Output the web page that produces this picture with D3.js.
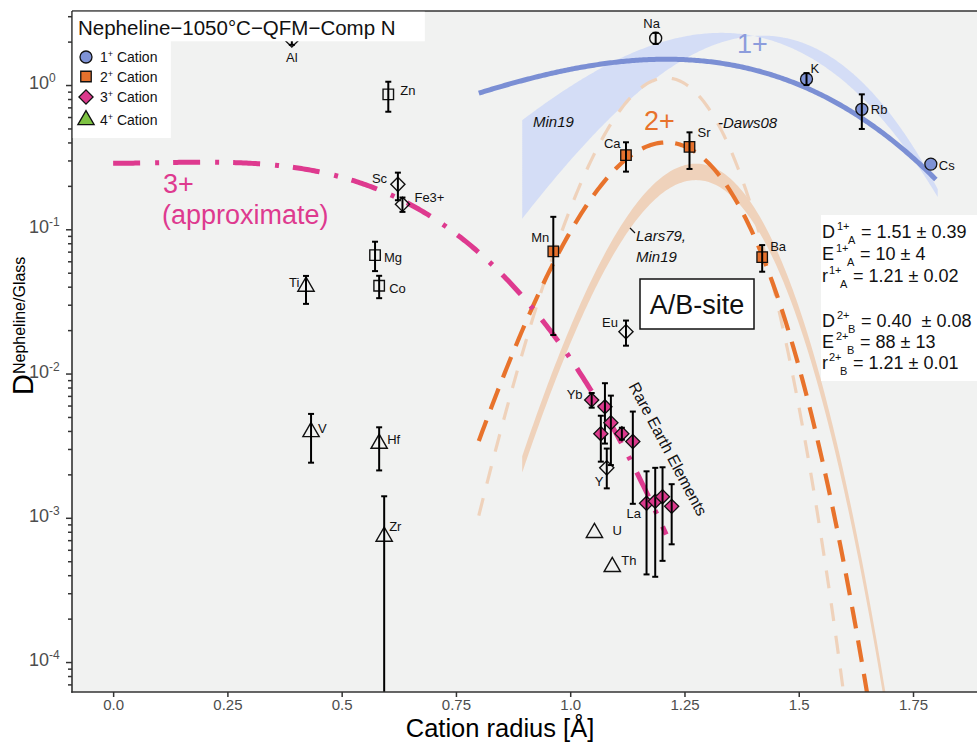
<!DOCTYPE html>
<html>
<head>
<meta charset="utf-8">
<script src="https://cdn.jsdelivr.net/npm/d3@7"></script>
<style>
  body { margin: 0; background: #ffffff; }
  text { font-family: "Liberation Sans", Arial, Helvetica, sans-serif; }
</style>
</head>
<body>
<svg id="chart" width="977" height="742"></svg>
<script>
// ---------------------------------------------------------------
// Measured partition coefficients, nepheline / glass
// ---------------------------------------------------------------
// 1+ cations
const monoNames  = ["Na", "K", "Rb", "Cs"];
const monoRadius = [1.187, 1.517, 1.638, 1.789];
const monoD      = [2.11, 1.10, 0.679, 0.283];
const monoLo     = [1.93, 1.00, 0.496, 0.283];
const monoHi     = [2.30, 1.21, 0.862, 0.283];
const monoFilled = [false, true, true, true];

// 2+ cations
const diNames  = ["Ca", "Sr", "Ba", "Mn", "Zn", "Mg", "Co"];
const diRadius = [1.122, 1.261, 1.420, 0.963, 0.602, 0.573, 0.582];
const diD      = [0.327, 0.373, 0.0642, 0.0702, 0.862, 0.0662, 0.0406];
const diLo     = [0.251, 0.262, 0.0508, 0.0185, 0.653, 0.0513, 0.0333];
const diHi     = [0.401, 0.470, 0.0777, 0.122, 1.054, 0.0820, 0.0476];
const diFilled = [true, true, true, true, false, false, false];

// 3+ cations (REE filled, others open)
const triNames  = ["Al", "Sc", "Fe3+", "Eu", "Y", "Yb", "", "", "", "", "", "La", "", "", ""];
const triRadius = [0.391, 0.623, 0.633, 1.122, 1.080, 1.047, 1.076, 1.089, 1.067, 1.113, 1.137, 1.167, 1.186, 1.202, 1.222];
const triD      = [2.05, 0.205, 0.149, 0.0195, 0.00222, 0.00655, 0.00588, 0.00456, 0.00383, 0.00383, 0.00338, 0.00126, 0.00130, 0.00140, 0.00120];
const triLo     = [1.90, 0.159, 0.132, 0.0156, 0.00160, 0.00580, 0.00327, 0.00232, 0.00245, 0.00348, 0.00125, 0.000405, 0.000390, 0.000503, 0.000655];
const triHi     = [2.20, 0.247, 0.166, 0.0233, 0.00302, 0.00733, 0.00857, 0.00703, 0.00510, 0.00421, 0.00545, 0.00210, 0.00222, 0.00224, 0.00171];
const triFilled = [false, false, false, false, false, true, true, true, true, true, true, true, true, true, true];

// 4+ cations
const tetraNames  = ["Ti", "V", "Hf", "Zr", "U", "Th"];
const tetraRadius = [0.422, 0.433, 0.582, 0.593, 1.053, 1.092];
const tetraD      = [0.0401, 0.00394, 0.00327, 0.000742, 0.000788, 0.000457];
const tetraLo     = [0.0304, 0.00241, 0.00213, 0.000001, 0.000788, 0.000457];
const tetraHi     = [0.0475, 0.00525, 0.00424, 0.00141, 0.000788, 0.000457];

// ---------------------------------------------------------------
// Lattice-strain fits (Blundy & Wood) and literature curves
// ---------------------------------------------------------------
const fitCharge  = ["1+", "2+"];
const fitSite    = ["A", "B"];
const fitD0      = [1.51, 0.40];
const fitD0Err   = [0.39, 0.08];
const fitE       = [10, 88];      // GPa
const fitEErr    = [4, 13];
const fitR0      = [1.21, 1.21];  // Å
const fitR0Err   = [0.02, 0.01];
const fitRange   = [[0.80, 1.80], [0.80, 1.75]];

// approximate 3+ curve
const triCurve = { D0: 0.292, E: 19.4, r0: 0.20, range: [0.0, 1.21] };
// Dawson 2008 (2+)
const daws08 = { D0: 1.12, E: 129, r0: 1.21, range: [0.80, 1.70] };
// Larsen 1979 / Min19 2+ band
const lars79 = { D0: 0.25, E: 92, r0: 1.275, spread: 1.14, range: [0.895, 1.75] };
// Min19 1+ band, upper and lower bounding curves
const min19Upper = { D0: 2.30, E: 20.6, r0: 1.33 };
const min19Lower = { D0: 2.20, E: 28.8, r0: 1.42 };
const min19Range = [0.895, 1.804];

const xTickValues = [0, 0.25, 0.5, 0.75, 1.0, 1.25, 1.5, 1.75];
const xTickLabels = ["0.0", "0.25", "0.5", "0.75", "1.0", "1.25", "1.5", "1.75"];
const yTickExponents = [0, -1, -2, -3, -4];

const T_K = 1050 + 273.15;

// ---------------------------------------------------------------
const svg = d3.select("#chart");
const panel = { left: 72, right: 977, top: 11, bottom: 692 };

const x = d3.scaleLinear().domain([-0.09, 1.89]).range([panel.left, panel.right]);
const y = d3.scaleLog().domain([6.2e-5, 3.26]).range([panel.bottom, panel.top]);

const colors = {
  mono: "#7f93d6", di: "#e5712d", tri: "#dc3a8d", tetra: "#7dc242",
  monoLine: "#7b8fd4", monoBand: "#d2dbf5", diLine: "#e8732c",
  peach: "#efd2bb", triLine: "#de3a8f", tick: "#4d4d4d", axis: "#333333"
};

function latticeStrain(r, D0, E, r0) {
  const NA = 6.02214e23, R = 8.314462;
  const k = 4 * Math.PI * NA * E * 1e9 * 1e-30 / (R * T_K);
  const d = r - r0;
  return D0 * Math.exp(-k * (r0 / 2 * d * d + d * d * d / 3));
}
function sampleRadii(range) {
  const pts = d3.range(range[0], range[1], 0.004);
  pts.push(range[1]);
  return pts;
}

// panel background
svg.append("rect")
  .attr("x", panel.left).attr("y", panel.top)
  .attr("width", panel.right - panel.left).attr("height", panel.bottom - panel.top)
  .attr("fill", "#f1f2f1");

svg.append("clipPath").attr("id", "panelClip")
  .append("rect")
  .attr("x", panel.left).attr("y", panel.top)
  .attr("width", panel.right - panel.left).attr("height", panel.bottom - panel.top);

const plot = svg.append("g").attr("clip-path", "url(#panelClip)");
const line = d3.line().x(d => x(d[0])).y(d => y(d[1]));

// Min19 1+ band
const min19Pts = sampleRadii(min19Range).map(r => [r,
  latticeStrain(r, min19Upper.D0, min19Upper.E, min19Upper.r0),
  latticeStrain(r, min19Lower.D0, min19Lower.E, min19Lower.r0)]);
plot.append("path")
  .attr("d", d3.area().x(d => x(d[0])).y0(d => y(d[1])).y1(d => y(d[2]))(min19Pts))
  .attr("fill", colors.monoBand).attr("opacity", 0.95);

// Lars79 / Min19 2+ band
const larsPts = sampleRadii(lars79.range).map(r => {
  const D = latticeStrain(r, lars79.D0, lars79.E, lars79.r0);
  return [r, D / lars79.spread, D * lars79.spread];
});
plot.append("path")
  .attr("d", d3.area().x(d => x(d[0])).y0(d => y(d[1])).y1(d => y(d[2]))(larsPts))
  .attr("fill", colors.peach);

// Daws08 dashed
plot.append("path")
  .attr("d", line(sampleRadii(daws08.range).map(r => [r, latticeStrain(r, daws08.D0, daws08.E, daws08.r0)])))
  .attr("fill", "none").attr("stroke", colors.peach).attr("stroke-width", 3.2)
  .attr("stroke-dasharray", "18,15");

// 2+ fit, dashed
plot.append("path")
  .attr("d", line(sampleRadii(fitRange[1]).map(r => [r, latticeStrain(r, fitD0[1], fitE[1], fitR0[1])])))
  .attr("fill", "none").attr("stroke", colors.diLine).attr("stroke-width", 4.2)
  .attr("stroke-dasharray", "22,12");

// 1+ fit, solid
plot.append("path")
  .attr("d", line(sampleRadii(fitRange[0]).map(r => [r, latticeStrain(r, fitD0[0], fitE[0], fitR0[0])])))
  .attr("fill", "none").attr("stroke", colors.monoLine).attr("stroke-width", 5);

// 3+ approximate, dash-dot
plot.append("path")
  .attr("d", line(sampleRadii(triCurve.range).map(r => [r, latticeStrain(r, triCurve.D0, triCurve.E, triCurve.r0)])))
  .attr("fill", "none").attr("stroke", colors.triLine).attr("stroke-width", 5)
  .attr("stroke-dasharray", "27,15,4,14");

// ---------------------------------------------------------------
// points with error bars
// ---------------------------------------------------------------
function groupRows(names, radius, D, lo, hi, filled, shape, fill) {
  return names.map((n, i) => ({ name: n, r: radius[i], D: D[i], lo: lo[i], hi: hi[i],
    filled: filled ? filled[i] : false, shape, fill }));
}
const rows = [].concat(
  groupRows(monoNames, monoRadius, monoD, monoLo, monoHi, monoFilled, "circle", colors.mono),
  groupRows(diNames, diRadius, diD, diLo, diHi, diFilled, "square", colors.di),
  groupRows(triNames, triRadius, triD, triLo, triHi, triFilled, "diamond", colors.tri),
  groupRows(tetraNames, tetraRadius, tetraD, tetraLo, tetraHi, null, "triangle", colors.tetra)
);

const symbolFor = {
  circle: d3.symbol(d3.symbolCircle, 113)(),
  square: d3.symbol(d3.symbolSquare, 110)(),
  diamond: d3.symbol(d3.symbolSquare, 100)(),
  triangle: d3.symbol(d3.symbolTriangle, 115)()
};

const pts = plot.append("g");
// open markers first, filled REE on top
const ordered = rows.slice().sort((a, b) => (a.filled === b.filled) ? 0 : (a.filled ? 1 : -1));
ordered.forEach(d => {
  const cx = x(d.r), cy = y(d.D);
  const g = pts.append("g");
  g.append("path")
    .attr("d", symbolFor[d.shape])
    .attr("transform", `translate(${cx},${cy})` + (d.shape === "diamond" ? " rotate(45)" : ""))
    .attr("fill", d.filled ? d.fill : "none")
    .attr("stroke", "#111").attr("stroke-width", d.filled ? 1.3 : 1.4);
  if (d.hi !== d.lo) {
    const y1 = y(d.hi), y2 = y(d.lo);
    g.append("line").attr("x1", cx).attr("x2", cx).attr("y1", y1).attr("y2", y2)
      .attr("stroke", "#000").attr("stroke-width", 2);
    [y1, y2].forEach(yy => g.append("line")
      .attr("x1", cx - 3).attr("x2", cx + 3).attr("y1", yy).attr("y2", yy)
      .attr("stroke", "#000").attr("stroke-width", 2));
  }
});

// element labels (offsets in px from the marker)
const labelOffset = {
  Na: [-4, -10, "middle"], K: [4, -6], Rb: [9, 5], Cs: [8, 6],
  Ca: [-22, -7], Sr: [8, -10], Ba: [8, -6], Mn: [-22, -9], Zn: [12, 1], Mg: [9, 7], Co: [10, 7],
  Al: [0, 22, "middle"], Sc: [-26, -1], "Fe3+": [12, -2], Eu: [-24, -5], Y: [-12, 18], Yb: [-25, -1], La: [-20, 15],
  Ti: [-17, 0], V: [7, 1], Hf: [8, 0], Zr: [5, -5], U: [18, 2], Th: [9, -2]
};
const labels = svg.append("g").attr("font-size", 13).attr("fill", "#111");
rows.filter(d => d.name && labelOffset[d.name]).forEach(d => {
  const o = labelOffset[d.name];
  labels.append("text")
    .attr("x", x(d.r) + o[0]).attr("y", y(d.D) + o[1])
    .attr("text-anchor", o[2] || "start")
    .text(d.name);
});

// ---------------------------------------------------------------
// curve annotations
// ---------------------------------------------------------------
const ann = svg.append("g");
ann.append("text").attr("x", 737).attr("y", 53).attr("font-size", 27).attr("fill", "#8c9cdc").text("1+");
ann.append("text").attr("x", 644).attr("y", 130).attr("font-size", 27).attr("fill", colors.diLine).text("2+");
ann.append("text").attr("x", 163).attr("y", 193).attr("font-size", 27).attr("fill", colors.triLine).text("3+");
ann.append("text").attr("x", 162).attr("y", 224).attr("font-size", 27).attr("fill", colors.triLine).text("(approximate)");
ann.append("text").attr("x", 533).attr("y", 127).attr("font-size", 15).attr("font-style", "italic").attr("fill", "#111").text("Min19");
ann.append("text").attr("x", 718).attr("y", 128).attr("font-size", 15).attr("font-style", "italic").attr("fill", "#111").text("-Daws08");
ann.append("line").attr("x1", 630).attr("y1", 228).attr("x2", 635).attr("y2", 233).attr("stroke", "#111").attr("stroke-width", 1.3);
ann.append("text").attr("x", 636).attr("y", 241).attr("font-size", 15).attr("font-style", "italic").attr("fill", "#111").text("Lars79,");
ann.append("text").attr("x", 636).attr("y", 262).attr("font-size", 15).attr("font-style", "italic").attr("fill", "#111").text("Min19");
ann.append("text")
  .attr("transform", "translate(668,449) rotate(62)")
  .attr("text-anchor", "middle").attr("dominant-baseline", "central")
  .attr("font-size", 16).attr("fill", "#111").text("Rare Earth Elements");

// A/B-site box
ann.append("rect").attr("x", 640).attr("y", 279).attr("width", 114).attr("height", 50)
  .attr("fill", "#fff").attr("stroke", "#111").attr("stroke-width", 1.5);
ann.append("text").attr("x", 697).attr("y", 314).attr("text-anchor", "middle")
  .attr("font-size", 27).attr("fill", "#111").text("A/B-site");

// fit parameter box
ann.append("rect").attr("x", 821).attr("y", 215).attr("width", 160).attr("height", 166).attr("fill", "#fff");
const paramLines = [];
fitCharge.forEach((c, i) => {
  paramLines.push({ sym: "D", w: 15, sup: c, sub: fitSite[i], val: `= ${fitD0[i].toFixed(2)}  \u00b1 ${fitD0Err[i].toFixed(2)}` });
  paramLines.push({ sym: "E", w: 14, sup: c, sub: fitSite[i], val: `= ${fitE[i]} \u00b1 ${fitEErr[i]}` });
  paramLines.push({ sym: "r", w: 7, sup: c, sub: fitSite[i], val: `= ${fitR0[i].toFixed(2)} \u00b1 ${fitR0Err[i].toFixed(2)}` });
});
paramLines[0].val = `= ${fitD0[0].toFixed(2)} \u00b1 ${fitD0Err[0].toFixed(2)}`;
const paramBase = [238, 260, 282, 327, 348, 369];
paramLines.forEach((p, i) => {
  const b = paramBase[i], x0 = 822;
  const t = ann.append("g").attr("fill", "#111");
  t.append("text").attr("x", x0).attr("y", b).attr("font-size", 18).text(p.sym);
  t.append("text").attr("x", x0 + p.w).attr("y", b - 8).attr("font-size", 11).text(p.sup);
  t.append("text").attr("x", x0 + p.w + 11).attr("y", b + 6).attr("font-size", 11).text(p.sub);
  t.append("text").attr("x", x0 + p.w + 24).attr("y", b).attr("font-size", 18)
    .attr("xml:space", "preserve").style("white-space", "pre").text(p.val);
});

// ---------------------------------------------------------------
// axes
// ---------------------------------------------------------------
const axisG = svg.append("g");
axisG.append("line").attr("x1", panel.left).attr("x2", panel.right).attr("y1", panel.top).attr("y2", panel.top)
  .attr("stroke", colors.axis).attr("stroke-width", 1.6);
axisG.append("line").attr("x1", panel.left).attr("x2", panel.left).attr("y1", panel.top).attr("y2", panel.bottom + 0.8)
  .attr("stroke", colors.axis).attr("stroke-width", 1.6);
axisG.append("line").attr("x1", panel.left - 0.8).attr("x2", panel.right).attr("y1", panel.bottom).attr("y2", panel.bottom)
  .attr("stroke", colors.axis).attr("stroke-width", 1.6);

// x axis ticks
const xAxis = d3.axisBottom(x).tickValues(xTickValues)
  .tickFormat((d, i) => xTickLabels[i]).tickSize(5).tickPadding(2);
const xg = svg.append("g").attr("transform", `translate(0,${panel.bottom})`).call(xAxis);
xg.select(".domain").remove();
xg.selectAll(".tick line").attr("stroke", colors.axis).attr("stroke-width", 1.5);
xg.selectAll(".tick text").attr("fill", colors.tick).attr("font-size", 15)
  .attr("font-family", "Liberation Sans, Arial, sans-serif");

// y axis ticks: majors and minors
const yMinor = [];
yTickExponents.concat([-5]).forEach(e => d3.range(2, 10).forEach(m => {
  const v = m * Math.pow(10, e);
  if (v > y.domain()[0] && v < y.domain()[1]) yMinor.push(v);
}));
const yMajor = yTickExponents.map(e => Math.pow(10, e));
const yg = svg.append("g").attr("transform", `translate(${panel.left},0)`);
yg.call(d3.axisLeft(y).tickValues(yMinor).tickSize(4).tickFormat(""));
yg.call(g => g.select(".domain").remove());
const ygMajor = svg.append("g").attr("transform", `translate(${panel.left},0)`)
  .call(d3.axisLeft(y).tickValues(yMajor).tickSize(6).tickFormat(""));
ygMajor.select(".domain").remove();
svg.selectAll(".tick line").attr("stroke", colors.axis).attr("stroke-width", 1.5);

yTickExponents.forEach(e => {
  const t = svg.append("text").attr("x", 29).attr("y", y(Math.pow(10, e)) + 4)
    .attr("fill", colors.tick).attr("font-size", 18);
  t.append("tspan").text("10");
  t.append("tspan").attr("font-size", 12).attr("dy", -7).text(String(e));
});

// axis titles
svg.append("text").attr("x", 500).attr("y", 736.5).attr("text-anchor", "middle")
  .attr("font-size", 25.5).attr("fill", "#000").text("Cation radius [\u00c5]");
const yt = svg.append("text").attr("transform", "translate(33,395) rotate(-90)")
  .attr("fill", "#000").attr("font-size", 29);
yt.append("tspan").text("D");
yt.append("tspan").attr("font-size", 16).attr("dy", -8).text("Nepheline/Glass");

// ---------------------------------------------------------------
// title and legend boxes
// ---------------------------------------------------------------
svg.append("rect").attr("x", panel.left + 0.8).attr("y", panel.top + 0.8).attr("width", 352).attr("height", 29.5).attr("fill", "#fff");
svg.append("text").attr("x", 78).attr("y", 35).attr("font-size", 20.5).attr("fill", "#111")
  .text("Nepheline\u22121050\u00b0C\u2212QFM\u2212Comp N");

svg.append("rect").attr("x", panel.left + 0.8).attr("y", 41).attr("width", 98).attr("height", 97).attr("fill", "#fff");
const legendItems = [
  { shape: "circle", fill: colors.mono, label: "1", y: 57 },
  { shape: "square", fill: colors.di, label: "2", y: 76.5 },
  { shape: "diamond", fill: colors.tri, label: "3", y: 97 },
  { shape: "triangle", fill: colors.tetra, label: "4", y: 120 }
];
legendItems.forEach(it => {
  svg.append("path").attr("d", symbolFor[it.shape])
    .attr("transform", `translate(86,${it.y})` + (it.shape === "diamond" ? " rotate(45)" : ""))
    .attr("fill", it.fill).attr("stroke", "#111").attr("stroke-width", 1.3);
  const t = svg.append("text").attr("x", 100).attr("y", it.y + 5).attr("font-size", 14).attr("fill", "#111");
  t.append("tspan").text(it.label);
  t.append("tspan").attr("font-size", 9).attr("dy", -5).text("+");
  t.append("tspan").attr("dy", 5).text(" Cation");
});
</script>
</body>
</html>
